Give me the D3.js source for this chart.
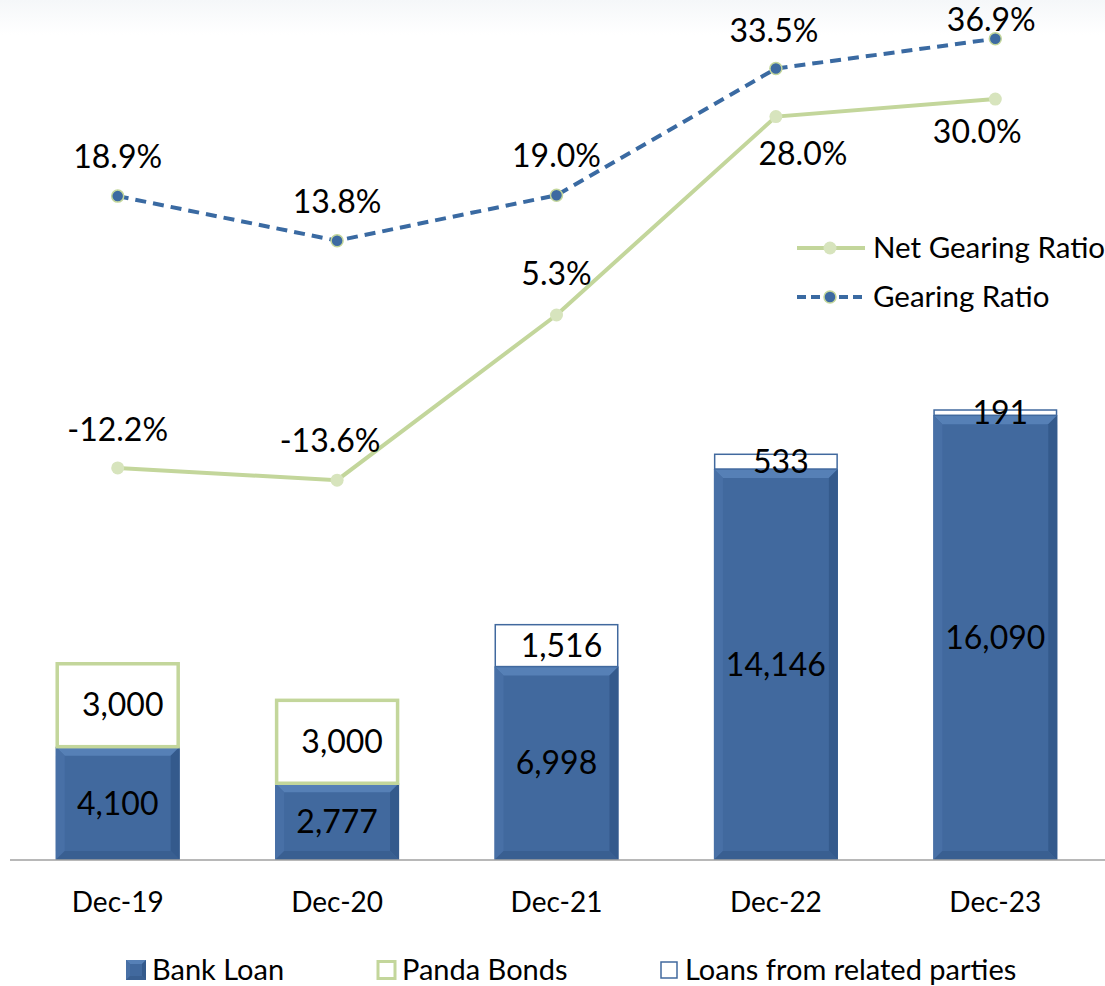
<!DOCTYPE html>
<html>
<head>
<meta charset="utf-8">
<script src="https://cdn.jsdelivr.net/npm/d3@7"></script>
<style>
  html, body { margin: 0; padding: 0; background: #fff; }
  svg { display: block; font-family: Lato, "Open Sans", sans-serif; }
</style>
</head>
<body>
<svg id="chart" width="1105" height="986"></svg>
<script>
// Borrowings (RMB million) and gearing ratios, year-end
const periods = ["Dec-19", "Dec-20", "Dec-21", "Dec-22", "Dec-23"];
const bankLoan = [4100, 2777, 6998, 14146, 16090];
const pandaBonds = [3000, 3000, 0, 0, 0];
const relatedLoans = [0, 0, 1516, 533, 191];
const netGearing = [-12.2, -13.6, 5.3, 28.0, 30.0];
const gearing = [18.9, 13.8, 19.0, 33.5, 36.9];

const BLUE = "#41699e";
const GREEN = "#c3d69b", GREEN_LIGHT = "#d7e4bd";

const svg = d3.select("#chart");
const fmt = d3.format(",");
const pct = v => v.toFixed(1) + "%";

// faint haze along the top edge
const defs = svg.append("defs");
const haze = defs.append("linearGradient").attr("id", "haze").attr("x1", 0).attr("x2", 0).attr("y1", 0).attr("y2", 1);
haze.append("stop").attr("offset", 0).attr("stop-color", "#f5f7f9");
haze.append("stop").attr("offset", 1).attr("stop-color", "#ffffff");
svg.append("rect").attr("x", 0).attr("y", 0).attr("width", 1105).attr("height", 35).attr("fill", "url(#haze)");

const x = d3.scaleBand().domain(periods).range([8, 1105]).paddingInner(0.435).paddingOuter(0.2175);
const yBar = d3.scaleLinear().domain([0, 18000]).range([860, 362.5]);
const yPct = d3.scaleLinear().domain([-20, 40]).range([536.1, 11.7]);

const cx = p => x(p) + x.bandwidth() / 2;

const rows = periods.map((p, i) => ({ p, bank: bankLoan[i], panda: pandaBonds[i], rel: relatedLoans[i] }));

// beveled bar drawn from its rectangle
function bevelBar(g, x0, y0, w, h, b) {
  g.append("rect").attr("x", x0).attr("y", y0).attr("width", w).attr("height", h).attr("fill", BLUE);
  const x1 = x0 + w, y1 = y0 + h;
  const bb = Math.min(b, h / 2, w / 2);
  const poly = (pts, fill) => g.append("polygon").attr("points", pts.map(q => q.join(",")).join(" ")).attr("fill", fill);
  poly([[x0, y0], [x1, y0], [x1 - bb, y0 + bb], [x0 + bb, y0 + bb]], "#5680b6");
  poly([[x0, y0], [x0 + bb, y0 + bb], [x0 + bb, y1 - bb], [x0, y1]], "#4870a6");
  poly([[x1, y0], [x1, y1], [x1 - bb, y1 - bb], [x1 - bb, y0 + bb]], "#345a8c");
  poly([[x0, y1], [x0 + bb, y1 - bb], [x1 - bb, y1 - bb], [x1, y1]], "#395f91");
}

const bars = svg.append("g");
rows.forEach(r => {
  const bx = x(r.p), bw = x.bandwidth();
  const yTop = yBar(r.bank);
  bevelBar(bars, bx, yTop, bw, yBar(0) - yTop, 9);
  if (r.panda > 0) {
    const y2 = yBar(r.bank + r.panda);
    bars.append("rect").attr("x", bx + 1.5).attr("y", y2).attr("width", bw - 3).attr("height", yTop - y2)
      .attr("fill", "#fff").attr("stroke", GREEN).attr("stroke-width", 3.5);
  }
  if (r.rel > 0) {
    const y2 = yBar(r.bank + r.rel);
    bars.append("rect").attr("x", bx + 0.75).attr("y", y2).attr("width", bw - 1.5).attr("height", yTop - y2)
      .attr("fill", "#fff").attr("stroke", BLUE).attr("stroke-width", 1.5);
  }
});

// baseline
svg.append("line").attr("x1", 10).attr("x2", 1105).attr("y1", 860).attr("y2", 860)
  .attr("stroke", "#a0a0a0").attr("stroke-width", 1.5);

// bar value labels
const labels = svg.append("g").attr("font-size", 32).attr("fill", "#000").attr("text-anchor", "middle");
rows.forEach(r => {
  const yTop = yBar(r.bank);
  labels.append("text").attr("x", cx(r.p)).attr("y", (yTop + yBar(0)) / 2).attr("dy", "0.35em").text(fmt(r.bank));
  const top = r.panda || r.rel;
  if (top > 0) {
    const y2 = yBar(r.bank + top);
    labels.append("text").attr("x", cx(r.p) + 5).attr("y", (yTop + y2) / 2).attr("dy", "0.35em").text(fmt(top));
  }
});

// category axis
const xAxis = svg.append("g").attr("transform", "translate(0,860)")
  .call(d3.axisBottom(x).tickSize(0).tickPadding(0));
xAxis.select(".domain").remove();
xAxis.selectAll("text").attr("font-size", 28).attr("font-family", "Lato, sans-serif").attr("fill", "#000")
  .attr("y", 42).attr("dy", "0.35em");

// ratio lines
const lineGen = d3.line().x((d, i) => cx(periods[i])).y(d => yPct(d));

svg.append("path").datum(netGearing).attr("d", lineGen).attr("fill", "none")
  .attr("stroke", GREEN).attr("stroke-width", 4);
svg.append("g").selectAll("circle").data(netGearing).join("circle")
  .attr("cx", (d, i) => cx(periods[i])).attr("cy", d => yPct(d)).attr("r", 6.5).attr("fill", GREEN_LIGHT);

svg.append("path").datum(gearing).attr("d", lineGen).attr("fill", "none")
  .attr("stroke", "#3a6aa2").attr("stroke-width", 4).attr("stroke-dasharray", "11,7");
svg.append("g").selectAll("circle").data(gearing).join("circle")
  .attr("cx", (d, i) => cx(periods[i])).attr("cy", d => yPct(d)).attr("r", 6)
  .attr("fill", "#3d6aa1").attr("stroke", GREEN).attr("stroke-width", 1.5);

// ratio labels: offsets from each point (dx, dy)
const gearOff = [[0, -39], [0, -39], [0, -39], [-2, -38], [-4, -19]];
const netOff = [[0, -38], [-7, -39], [0, -41], [27, 37], [-18, 33]];
const pctLabels = svg.append("g").attr("font-size", 32).attr("fill", "#000").attr("text-anchor", "middle");
gearing.forEach((v, i) => {
  pctLabels.append("text").attr("x", cx(periods[i]) + gearOff[i][0]).attr("y", yPct(v) + gearOff[i][1])
    .attr("dy", "0.35em").text(pct(v));
});
netGearing.forEach((v, i) => {
  pctLabels.append("text").attr("x", cx(periods[i]) + netOff[i][0]).attr("y", yPct(v) + netOff[i][1])
    .attr("dy", "0.35em").text(pct(v));
});

// line legend
const lg = svg.append("g").attr("font-size", 29.5).attr("fill", "#000");
lg.append("line").attr("x1", 797).attr("x2", 865).attr("y1", 248).attr("y2", 248).attr("stroke", GREEN).attr("stroke-width", 4);
lg.append("circle").attr("cx", 830).attr("cy", 248).attr("r", 6.5).attr("fill", GREEN_LIGHT);
lg.append("text").attr("x", 873).attr("y", 248).attr("dy", "0.35em").text("Net Gearing Ratio");
lg.append("line").attr("x1", 797).attr("x2", 865).attr("y1", 297).attr("y2", 297).attr("stroke", "#3a6aa2")
  .attr("stroke-width", 4).attr("stroke-dasharray", "9,5");
lg.append("circle").attr("cx", 830).attr("cy", 297).attr("r", 6).attr("fill", "#3d6aa1").attr("stroke", GREEN).attr("stroke-width", 1.5);
lg.append("text").attr("x", 873).attr("y", 297).attr("dy", "0.35em").text("Gearing Ratio");

// bar legend
const bl = svg.append("g").attr("font-size", 29).attr("fill", "#000");
bevelBar(bl, 126, 960, 20, 20, 4);
bl.append("text").attr("x", 152).attr("y", 970).attr("dy", "0.35em").text("Bank Loan");
bl.append("rect").attr("x", 378).attr("y", 961.5).attr("width", 17).attr("height", 17)
  .attr("fill", "#fff").attr("stroke", GREEN).attr("stroke-width", 3);
bl.append("text").attr("x", 402).attr("y", 970).attr("dy", "0.35em").text("Panda Bonds");
bl.append("rect").attr("x", 661).attr("y", 962).attr("width", 16).attr("height", 16)
  .attr("fill", "#fff").attr("stroke", BLUE).attr("stroke-width", 1.5);
bl.append("text").attr("x", 685).attr("y", 970).attr("dy", "0.35em").text("Loans from related parties");
</script>
</body>
</html>
